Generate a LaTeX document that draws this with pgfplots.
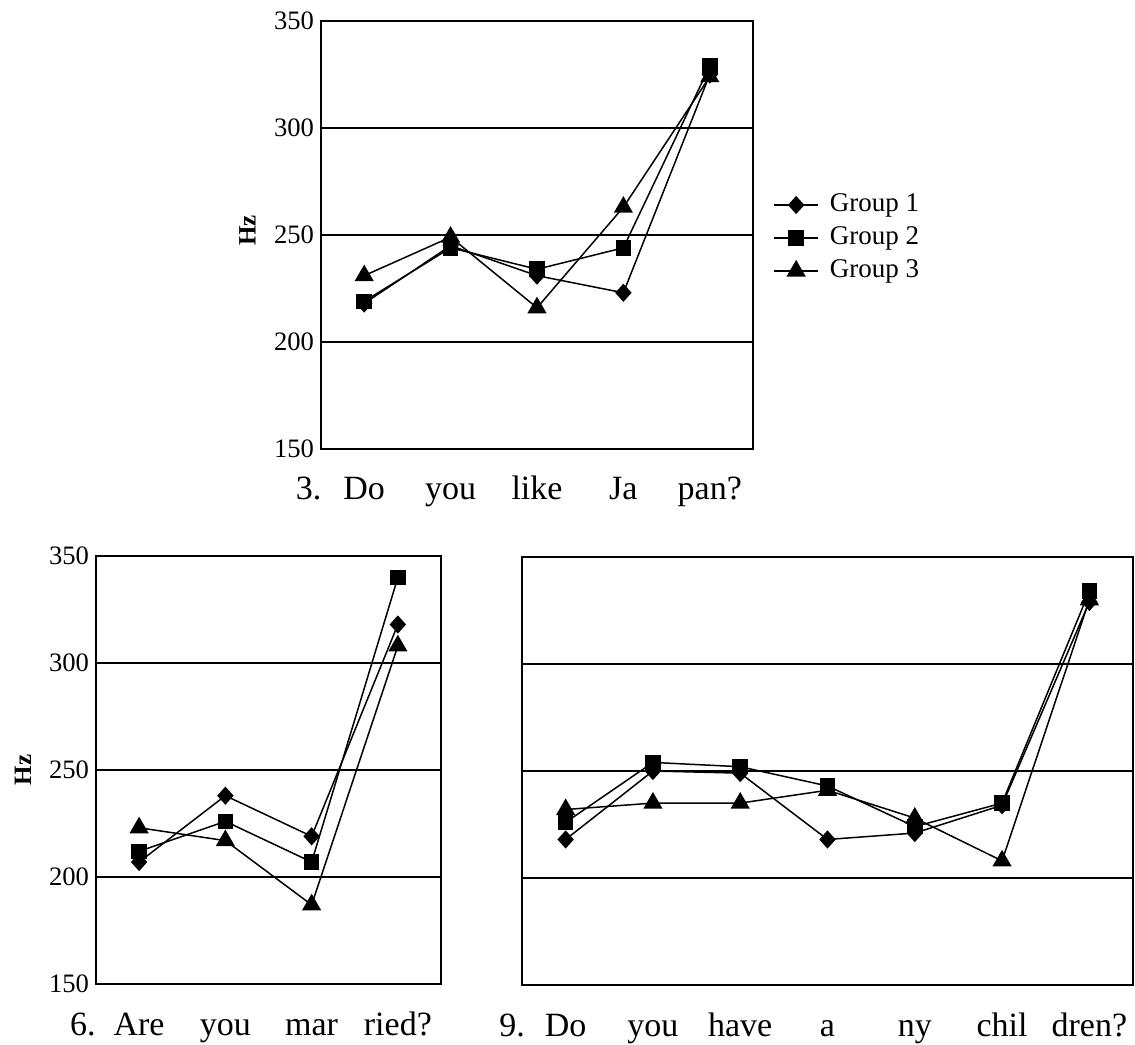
\documentclass[border=0pt]{standalone}
\usepackage{fontspec}
\setmainfont{Liberation Serif}
\usepackage{pgfplots}
\pgfplotsset{compat=1.18}
\begin{document}
\begin{tikzpicture}
\path[use as bounding box] (0,0) rectangle (567.5pt,522pt);
\pgfplotsset{
  base/.style={
    scale only axis, height=214pt, anchor=south west,
    ymin=150, ymax=350,
    ytick={150,200,250,300,350},
    ymajorgrids, grid style={black, line width=1pt},
    axis line style={line width=1pt},
    tick style={draw=none},
    xtick=data,
    /pgf/number format/assume math mode=true,
    yticklabel style={font=\fontsize{13.3}{14}\selectfont},
    xticklabel style={font=\fontsize{17}{18}\selectfont, anchor=base, yshift=-25.5pt},
    every axis y label/.style={at={(axis description cs:-0.17,0.51)}, anchor=center, rotate=90, font=\fontsize{12.5}{13}\selectfont\bfseries},
    every axis plot/.append style={black, line width=0.75pt},
    legend image code/.code={\draw[mark repeat=2, mark phase=2, ##1] plot coordinates {(0pt,0pt) (11pt,0pt) (22pt,0pt)};},
  },
  g1/.style={mark=diamond*, mark size=4pt, mark options={solid, fill=black, xscale=1.2}},
  g2/.style={mark=square*, mark size=3.5pt, mark options={solid, fill=black}},
  g3/.style={mark=triangle*, mark size=4.8pt, mark options={solid, fill=black}},
}
% Top: 3. Do you like Ja pan?
\begin{axis}[base, at={(160.5pt,297.5pt)}, width=216pt,
  xmin=-0.5, xmax=4.5,
  xticklabels={\llap{3.\hspace{11pt}}Do, you, like, Ja, pan?},
  ylabel={Hz},
  legend style={at={(axis description cs:1,0.493)}, anchor=west, xshift=10pt,
    draw=none, fill=none, inner sep=0pt, font=\fontsize{13.5}{14}\selectfont,
    row sep=2pt, column sep=4.5pt,
    nodes={inner sep=1pt, text height=9.5pt, text depth=3pt}},
  legend cell align=left]
\addplot[g1] coordinates {(0,218) (1,245) (2,231) (3,223) (4,325)};
\addplot[g2] coordinates {(0,219) (1,244) (2,234) (3,244) (4,329)};
\addplot[g3] coordinates {(0,231) (1,249) (2,216) (3,263) (4,324)};
\legend{Group 1, Group 2, Group 3}
\end{axis}
% Bottom left: 6. Are you married?
\begin{axis}[base, at={(48pt,30pt)}, width=172.5pt,
  xmin=-0.5, xmax=3.5,
  xticklabels={\llap{6.\hspace{9pt}}Are, you, mar, ried?},
  ylabel={Hz},
  every axis y label/.append style={at={(axis description cs:-0.2116,0.5)}}]
\addplot[g1] coordinates {(0,207) (1,238) (2,219) (3,318)};
\addplot[g2] coordinates {(0,212) (1,226) (2,207) (3,340)};
\addplot[g3] coordinates {(0,223) (1,217) (2,187) (3,308)};
\end{axis}
% Bottom right: 9. Do you have any children?
\begin{axis}[base, at={(261pt,29.5pt)}, width=305.5pt,
  xmin=-0.5, xmax=6.5,
  yticklabels={},
  xticklabels={\llap{9.\hspace{10pt}}Do, you, have, a, ny, chil, dren?}]
\addplot[g1] coordinates {(0,218) (1,250) (2,249) (3,218) (4,221) (5,234) (6,329)};
\addplot[g2] coordinates {(0,226) (1,254) (2,252) (3,243) (4,224) (5,235) (6,334)};
\addplot[g3] coordinates {(0,232) (1,235) (2,235) (3,241) (4,228) (5,208) (6,330)};
\end{axis}
\end{tikzpicture}
\end{document}
